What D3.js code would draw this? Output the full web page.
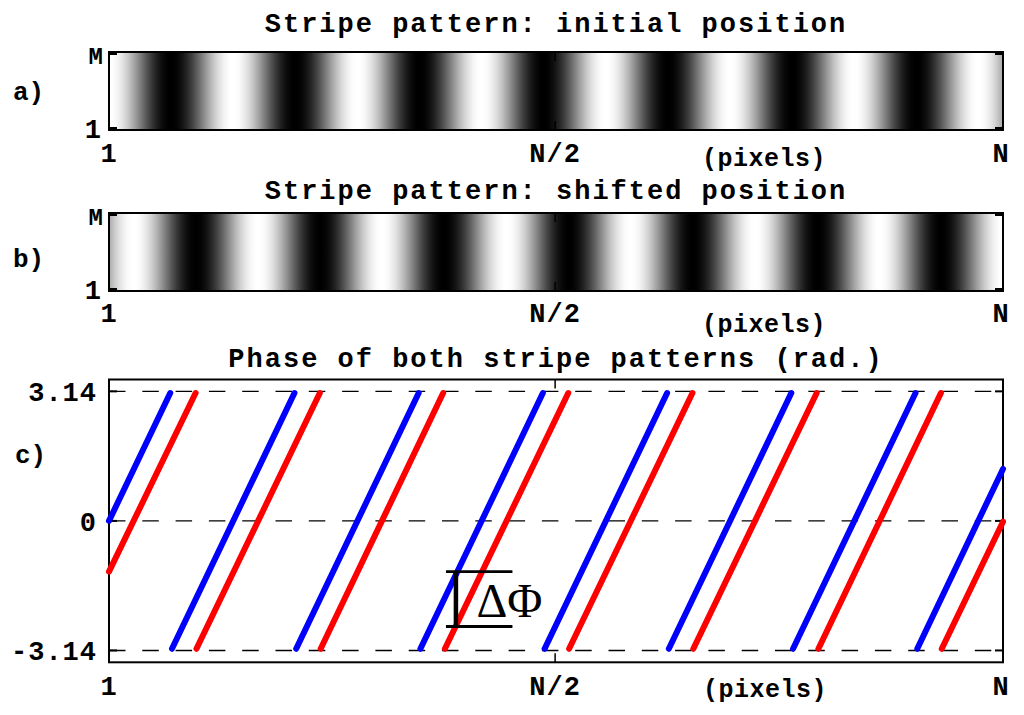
<!DOCTYPE html>
<html><head><meta charset="utf-8">
<script src="https://cdn.jsdelivr.net/npm/d3@7"></script>
<style>body{margin:0;background:#fff}</style>
</head><body><svg id="c" width="1024" height="715"></svg>
<script>
// ---------------- data ----------------
const N = 512, M = 64;
const xTickValues = [1, 256, 512];
const xTickLabels = ["1", "N/2", "N"];
const rowTickValues = [M, 1];
const rowTickLabels = ["M", "1"];
const phaseTickValues = [3.14, 0, -3.14];
const phaseTickLabels = ["3.14", "0", "-3.14"];
const titles = ["Stripe pattern: initial position", "Stripe pattern: shifted position", "Phase of both stripe patterns (rad.)"];
const panelLetters = ["a)", "b)", "c)"];
const unitLabel = "(pixels)";

// wrapped phase segments (x in pixels 1..N, phase in rad)
const blueX0 = [1, 37, 108, 179, 250, 321, 392, 463];
const blueX1 = [36, 107, 178, 249, 320, 391, 462, 512];
const blueP0 = [0, -3.1, -3.1, -3.1, -3.1, -3.1, -3.1, -3.1];
const blueP1 = [3.1, 3.1, 3.1, 3.1, 3.1, 3.1, 3.1, 1.26];
const redX0 = [1, 51, 122, 193, 264, 335, 406.5, 477];
const redX1 = [50.5, 121.5, 192, 263.5, 334.5, 405.5, 476.5, 512];
const redP0 = [-1.23, -3.1, -3.1, -3.1, -3.1, -3.1, -3.1, -3.1];
const redP1 = [3.1, 3.1, 3.1, 3.1, 3.1, 3.1, 3.1, -0.02];
const deltaLabel = "ΔΦ";

// ---------------- drawing ----------------
const svg = d3.select("#c");
const MONO = "'Courier New','Liberation Mono',monospace";
const x = d3.scaleLinear().domain([1, N]).range([109, 1003]);

function phaseAt(u, X0, X1, P0, P1) {
  for (let i = 0; i < X0.length; i++) {
    if (u < X0[i]) return P0[i];
    if (u <= X1[i]) return P0[i] + (P1[i] - P0[i]) * (u - X0[i]) / (X1[i] - X0[i]);
  }
  return P1[P1.length - 1];
}

function txt(s, px, py, size, anchor, ls, fam, weight) {
  return svg.append("text").attr("x", px).attr("y", py).text(s)
    .attr("font-family", fam || MONO).attr("font-weight", weight || "bold")
    .attr("font-size", size).attr("text-anchor", anchor || "start")
    .attr("letter-spacing", ls || 0).attr("fill", "#000");
}

const defs = svg.append("defs");
const stripePanels = [
  {top: 52, bottom: 130, titleY: 31.5, letterY: 100, labY: 162, pixY: 166, X0: blueX0, X1: blueX1, P0: blueP0, P1: blueP1, id: "ga"},
  {top: 213, bottom: 291, titleY: 199, letterY: 267, labY: 322, pixY: 332, X0: redX0, X1: redX1, P0: redP0, P1: redP1, id: "gb"}
];

stripePanels.forEach((p, k) => {
  const g = defs.append("linearGradient").attr("id", p.id)
    .attr("gradientUnits", "userSpaceOnUse")
    .attr("x1", x(1)).attr("x2", x(N)).attr("y1", 0).attr("y2", 0);
  for (let u = 1; u <= N; u += 0.5) {
    const ph = phaseAt(u, p.X0, p.X1, p.P0, p.P1);
    const v = Math.round(255 * (1 + Math.cos(ph)) / 2);
    g.append("stop").attr("offset", (u - 1) / (N - 1)).attr("stop-color", d3.rgb(v, v, v).formatHex());
  }
  const yr = d3.scaleLinear().domain([1, M]).range([p.bottom - 2, p.top + 2]);
  svg.append("rect").attr("x", x(1)).attr("y", p.top).attr("width", x(N) - x(1)).attr("height", p.bottom - p.top)
    .attr("fill", `url(#${p.id})`);
  svg.append("rect").attr("x", x(1)).attr("y", p.top).attr("width", x(N) - x(1)).attr("height", p.bottom - p.top)
    .attr("fill", "none").attr("stroke", "#000").attr("stroke-width", 2);
  rowTickValues.forEach(v => {
    svg.append("line").attr("x1", x(1)).attr("x2", x(1) + 8).attr("y1", yr(v)).attr("y2", yr(v)).attr("stroke", "#000").attr("stroke-width", 2);
    svg.append("line").attr("x1", x(N)).attr("x2", x(N) - 8).attr("y1", yr(v)).attr("y2", yr(v)).attr("stroke", "#000").attr("stroke-width", 2);
  });
  svg.append("line").attr("x1", x(256)).attr("x2", x(256)).attr("y1", p.top).attr("y2", p.top + 9).attr("stroke", "#000").attr("stroke-width", 1.5);
  svg.append("line").attr("x1", x(256)).attr("x2", x(256)).attr("y1", p.bottom).attr("y2", p.bottom - 9).attr("stroke", "#000").attr("stroke-width", 1.5);
  txt(titles[k], 556, p.titleY, 27, "middle", 2);
  txt(rowTickLabels[0], 103, p.top + 12, 24, "end");
  txt(rowTickLabels[1], 101, p.bottom + 7.5, 27, "end");
  txt(panelLetters[k], 13, p.letterY, 26, "start", 0);
  xTickValues.forEach((v, i) => {
    const xx = i === 2 ? x(v) - 2 : x(v);
    txt(xTickLabels[i], xx, p.labY, 27, "middle", 1);
  });
  txt(unitLabel, 702, p.pixY, 25, "start", 0.5);
});

// ---------------- phase panel ----------------
const pc = {top: 379.5, bottom: 662.3};
const yc = d3.scaleLinear().domain([-3.4275, 3.4275]).range([pc.bottom, pc.top]);

phaseTickValues.forEach((v, i) => {
  svg.append("line").attr("x1", x(1)).attr("x2", x(N)).attr("y1", yc(v)).attr("y2", yc(v))
    .attr("stroke", "#000").attr("stroke-width", 1.4).attr("stroke-dasharray", "16.5,16.8");
  svg.append("line").attr("x1", x(1)).attr("x2", x(1) + 8).attr("y1", yc(v)).attr("y2", yc(v)).attr("stroke", "#000").attr("stroke-width", 2);
  svg.append("line").attr("x1", x(N)).attr("x2", x(N) - 8).attr("y1", yc(v)).attr("y2", yc(v)).attr("stroke", "#000").attr("stroke-width", 2);
  txt(phaseTickLabels[i], 97, yc(v) + 10, 27, "end", 1);
});

svg.append("rect").attr("x", x(1)).attr("y", pc.top).attr("width", x(N) - x(1)).attr("height", pc.bottom - pc.top)
  .attr("fill", "none").attr("stroke", "#000").attr("stroke-width", 2);
svg.append("line").attr("x1", x(256)).attr("x2", x(256)).attr("y1", pc.top).attr("y2", pc.top + 9).attr("stroke", "#000").attr("stroke-width", 1.5);
svg.append("line").attr("x1", x(256)).attr("x2", x(256)).attr("y1", pc.bottom).attr("y2", pc.bottom - 9).attr("stroke", "#000").attr("stroke-width", 1.5);

const line = d3.line().x(d => x(d[0])).y(d => yc(d[1]));
function drawSeries(X0, X1, P0, P1, color) {
  const segs = X0.map((v, i) => [[X0[i], P0[i]], [X1[i], P1[i]]]);
  svg.append("g").selectAll("path").data(segs).join("path")
    .attr("d", line).attr("fill", "none").attr("stroke", color)
    .attr("stroke-width", 6).attr("stroke-linecap", "round");
}
drawSeries(blueX0, blueX1, blueP0, blueP1, "#0000ff");
drawSeries(redX0, redX1, redP0, redP1, "#ff0000");

// ΔΦ bracket
const bx = 199.3, bxl = 193.6, bxr = 231.6, btop = -1.23, bbot = -2.56;
svg.append("line").attr("x1", x(bxl)).attr("x2", x(bxr)).attr("y1", yc(btop)).attr("y2", yc(btop)).attr("stroke", "#000").attr("stroke-width", 2.8);
svg.append("line").attr("x1", x(bxl)).attr("x2", x(bxr)).attr("y1", yc(bbot)).attr("y2", yc(bbot)).attr("stroke", "#000").attr("stroke-width", 2.8);
svg.append("line").attr("x1", x(bx)).attr("x2", x(bx)).attr("y1", yc(btop)).attr("y2", yc(bbot)).attr("stroke", "#000").attr("stroke-width", 4.5);
txt(deltaLabel, x(211), 617, 48, "start", 0, "'Liberation Serif','Times New Roman',serif", "normal");

txt(titles[2], 556, 367, 27, "middle", 2);
txt(panelLetters[2], 15, 463, 26, "start", 0);
xTickValues.forEach((v, i) => {
  const xx = i === 2 ? x(v) - 2 : x(v);
  txt(xTickLabels[i], xx, 695, 27, "middle", 1);
});
txt(unitLabel, 703, 697, 25, "start", 0.5);
</script></body></html>
